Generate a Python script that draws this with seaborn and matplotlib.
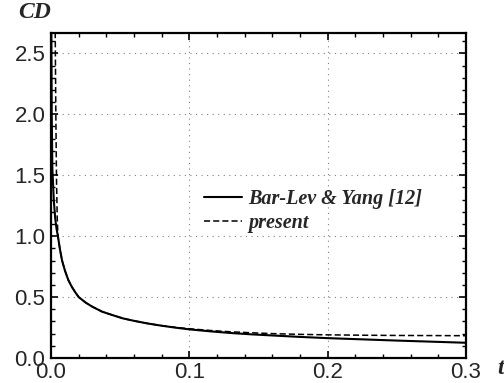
import pandas as pd
import matplotlib.pyplot as plt
import seaborn as sns
from matplotlib.ticker import MultipleLocator

# ==================================================
# Data
# ==================================================

t_bar_lev = [0.0002, 0.0005, 0.001, 0.002, 0.003, 0.004, 0.005, 0.0065, 0.008,
             0.01, 0.0125, 0.015, 0.0175, 0.02, 0.025, 0.03, 0.037, 0.045, 0.052,
             0.06, 0.07, 0.08, 0.09, 0.1, 0.115, 0.13, 0.145, 0.16, 0.18, 0.2,
             0.225, 0.25, 0.275, 0.3]
cd_bar_lev = [2.75, 2.0, 1.55, 1.3, 1.15, 1.06, 1.0, 0.89, 0.8,
              0.72, 0.64, 0.585, 0.54, 0.5, 0.455, 0.42, 0.38, 0.35, 0.325,
              0.305, 0.283, 0.265, 0.249, 0.235, 0.219, 0.205, 0.194, 0.185, 0.173, 0.163,
              0.153, 0.143, 0.134, 0.125]

t_present = [0.003, 0.0035, 0.004, 0.0045, 0.005, 0.0065, 0.008,
             0.01, 0.0125, 0.015, 0.0175, 0.02, 0.025, 0.03, 0.037, 0.045, 0.052,
             0.06, 0.07, 0.08, 0.09, 0.1, 0.115, 0.13, 0.145, 0.16, 0.18, 0.2,
             0.225, 0.25, 0.275, 0.3]
cd_present = [2.75, 2.0, 1.45, 1.15, 1.0, 0.89, 0.8,
              0.72, 0.64, 0.585, 0.54, 0.5, 0.455, 0.42, 0.38, 0.35, 0.325,
              0.305, 0.283, 0.265, 0.251, 0.24, 0.226, 0.215, 0.207, 0.2, 0.194, 0.19,
              0.187, 0.185, 0.184, 0.183]

df = pd.concat([
    pd.DataFrame({"t": t_bar_lev, "CD": cd_bar_lev, "source": "Bar-Lev & Yang [12]"}),
    pd.DataFrame({"t": t_present, "CD": cd_present, "source": "present"}),
])

# ==================================================
# Plot
# ==================================================

sns.set_style("ticks")
plt.rcParams["font.family"] = ["Liberation Sans", "DejaVu Sans"]

fig = plt.figure(figsize=(5.04, 3.83), dpi=100)
ax = fig.add_axes([51 / 504, 1 - 358 / 383, 415 / 504, 325 / 383])

sns.lineplot(data=df, x="t", y="CD", hue="source", style="source",
             palette=["black", "black"], dashes=[(None, None), (4, 2)],
             sort=False, estimator=None, ax=ax, legend=False)
lines = ax.get_lines()
lines[0].set_linewidth(1.5)
lines[1].set_linewidth(1.1)

ax.set_xlim(0, 0.3)
ax.set_ylim(0, 2.667)
ax.xaxis.set_major_locator(MultipleLocator(0.1))
ax.xaxis.set_minor_locator(MultipleLocator(0.02))
ax.yaxis.set_major_locator(MultipleLocator(0.5))
ax.yaxis.set_minor_locator(MultipleLocator(0.1))
ax.tick_params(which="both", direction="in", top=True, right=True,
               labelsize=16, color="black")
ax.tick_params(which="major", length=5, width=1.2)
ax.tick_params(which="minor", length=3, width=1.0)
ax.tick_params(axis="x", pad=3)
ax.tick_params(axis="y", pad=4)
ax.grid(True, which="major", linestyle=(0, (1, 4)), color="gray", linewidth=0.8)

for sp in ax.spines.values():
    sp.set_linewidth(1.6)
    sp.set_color("black")

ax.set_xlabel("")
ax.set_ylabel("")

serif = ["Liberation Serif", "DejaVu Serif"]
fig.text(18 / 504, 1 - 13 / 383, "CD", fontsize=17, fontweight="bold",
         fontstyle="italic", family=serif, va="center", ha="left")
fig.text(497 / 504, 1 - 369 / 383, "t", fontsize=17, fontweight="bold",
         fontstyle="italic", family=serif, va="center", ha="left")

leg = ax.legend(lines, ["Bar-Lev & Yang [12]", "present"],
                loc="center left", bbox_to_anchor=(194 / 504, 1 - 211 / 383),
                bbox_transform=fig.transFigure, frameon=False, borderpad=0,
                handlelength=1.9, handletextpad=0.3, labelspacing=0.2,
                prop={"family": serif, "weight": "bold", "style": "italic",
                      "size": 14.5})

fig.savefig("out.png", dpi=100)
plt.close()
